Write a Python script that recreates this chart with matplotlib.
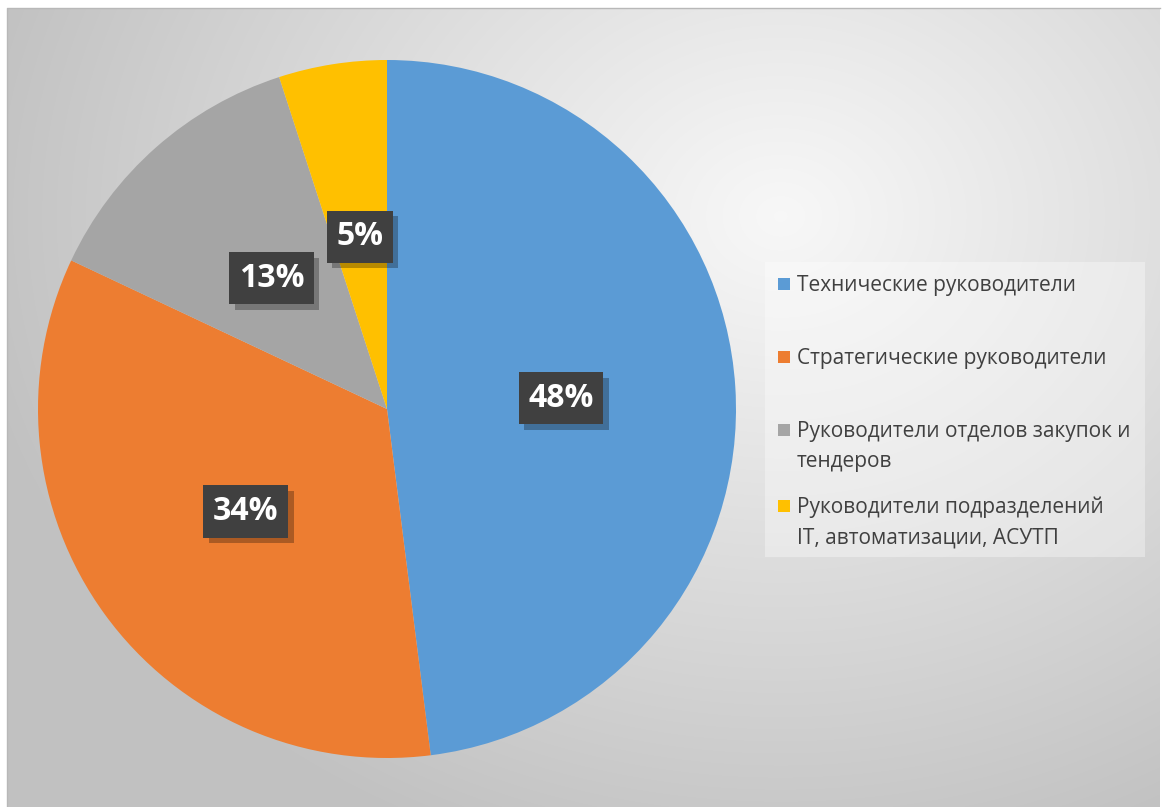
import numpy as np
import matplotlib
matplotlib.use('Agg')
import matplotlib.pyplot as plt
from matplotlib.patches import Rectangle
import matplotlib.patheffects as pe
from matplotlib.transforms import offset_copy

plt.rcParams['font.family'] = ['Open Sans', 'DejaVu Sans']

# ---- data ----
labels = ['Технические руководители',
          'Стратегические руководители',
          'Руководители отделов закупок и\nтендеров',
          'Руководители подразделений\nIT, автоматизации, АСУТП']
shares = [48, 34, 13, 5]
colors = ['#5B9BD5', '#ED7D31', '#A5A5A5', '#FFC000']

W, H = 1163, 807
fig = plt.figure(figsize=(W / 100, H / 100), dpi=100)

# ---- background: white frame + radial grey gradient ----
bg = fig.add_axes([0, 0, 1, 1], zorder=-10)
bg.set_xlim(0, W)
bg.set_ylim(H, 0)
bg.axis('off')
yy, xx = np.mgrid[0:H, 0:W]
d = np.hypot((xx - 780) * 0.95, (yy - 210) * 1.15) / 780.0
d = np.clip(d, 0, 1)
shade = 0.97 - (0.97 - 0.76) * d ** 1.05
img = np.dstack([shade, shade, shade])
bg.imshow(img, extent=(7, 1160, H, 8), aspect='auto', interpolation='bilinear')
bg.plot([7, 7, 1160], [H, 8, 8], color='#b8b8b8', lw=1)

# ---- pie ----
cx, cy, r = 387, 409, 349
ax = fig.add_axes([(cx - r) / W, (H - cy - r) / H, 2 * r / W, 2 * r / H])
wedges, _, autotexts = ax.pie(shares, colors=colors, startangle=90, counterclock=False,
                              autopct='%1.0f%%', pctdistance=0.5, radius=1,
                              wedgeprops=dict(linewidth=0))
ax.set_xlim(-1, 1)
ax.set_ylim(-1, 1)

for t in autotexts:
    t.set_color('white')
    t.set_fontsize(23)
    t.set_fontweight('bold')
    t.set_bbox(dict(boxstyle='square,pad=0.3', facecolor='#404040', edgecolor='none'))
    t.get_bbox_patch().set_path_effects([
        pe.SimplePatchShadow(offset=(4, -4), shadow_rgbFace='black', alpha=0.28),
        pe.Normal()])

# ---- legend (manual, Excel-like layout) ----
bg.add_patch(Rectangle((765, 262), 380, 295, facecolor='white', alpha=0.35,
                       edgecolor='none'))
legend_y = [284, 357, 430, 506]
for lab, col, y in zip(labels, colors, legend_y):
    bg.add_patch(Rectangle((778, y - 6), 12, 12, facecolor=col, edgecolor='none'))
    bg.text(797, y, lab, fontsize=15, color='#404040', ha='left', va='top',
            linespacing=1.55,
            transform=offset_copy(bg.transData, fig=fig, x=0, y=9, units='dots'))

fig.savefig('out.png', dpi=100)
